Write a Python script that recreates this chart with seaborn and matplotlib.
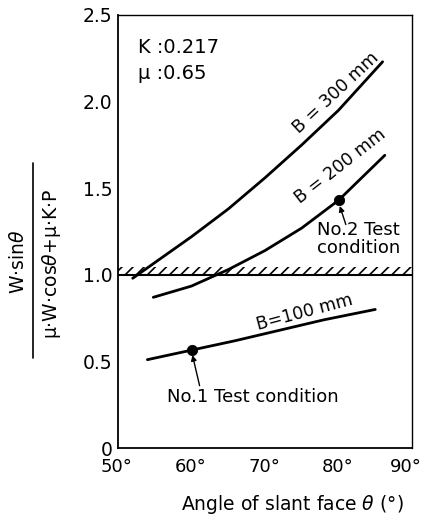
import matplotlib
matplotlib.use("Agg")
import matplotlib.pyplot as plt
import matplotlib.transforms as mtransforms
import seaborn as sns
import pandas as pd
from matplotlib.lines import Line2D

# ---- data ----
theta_300 = [52.0, 55.0, 60.0, 65.0, 70.0, 75.0, 80.0, 86.0]
val_300 = [0.98, 1.07, 1.22, 1.38, 1.56, 1.75, 1.95, 2.23]
theta_200 = [54.8, 60.0, 65.0, 70.0, 75.0, 80.0, 86.3]
val_200 = [0.87, 0.935, 1.03, 1.14, 1.27, 1.43, 1.69]
theta_100 = [54.0, 60.0, 66.0, 72.0, 78.0, 85.0]
val_100 = [0.51, 0.565, 0.62, 0.68, 0.74, 0.80]
test_theta = [60.0, 80.0]
test_val = [0.565, 1.43]
xticks = [50, 60, 70, 80, 90]
xticklabels = ["50°", "60°", "70°", "80°", "90°"]
yticks = [0, 0.5, 1.0, 1.5, 2.0, 2.5]
yticklabels = ["0", "0.5", "1.0", "1.5", "2.0", "2.5"]
limit_value = 1.0

df = pd.concat([
    pd.DataFrame({"theta": theta_300, "val": val_300, "B": "300"}),
    pd.DataFrame({"theta": theta_200, "val": val_200, "B": "200"}),
    pd.DataFrame({"theta": theta_100, "val": val_100, "B": "100"}),
])

sns.set_style("white")
plt.rcParams["font.family"] = ["DejaVu Sans"]
plt.rcParams["hatch.linewidth"] = 1.2
plt.rcParams["text.color"] = "black"
plt.rcParams["xtick.color"] = "black"
plt.rcParams["ytick.color"] = "black"

fig = plt.figure(figsize=(4.25, 5.18), dpi=100)
ax = fig.add_axes([118 / 425, 1 - 448 / 518, (412 - 118) / 425, (448 - 15) / 518])

sns.lineplot(data=df, x="theta", y="val", hue="B", units="B", estimator=None,
             palette={"300": "black", "200": "black", "100": "black"},
             linewidth=2.0, legend=False, ax=ax, sort=False)
sns.scatterplot(x=test_theta, y=test_val, color="black", s=55, ax=ax, zorder=5,
                edgecolor="black")

# limit line with hatch
ax.fill_between([50, 90], limit_value, limit_value + 0.045, facecolor="none",
                edgecolor="black", hatch="///", linewidth=0)
ax.axhline(limit_value, color="black", linewidth=1.5)

ax.set_xlim(50, 90)
ax.set_ylim(0, 2.5)
ax.set_xticks(xticks)
ax.set_xticklabels(xticklabels, fontsize=13)
ax.set_yticks(yticks)
ax.set_yticklabels(yticklabels, fontsize=13.5)
ax.tick_params(axis="x", direction="in", length=4, width=1.2, pad=7, colors="black")
ax.tick_params(axis="y", direction="out", length=3, width=1.2, pad=1, colors="black")
xlabels = ax.get_xticklabels()
for i, lab in enumerate(xlabels):
    dx = -6 if i == len(xlabels) - 1 else -1
    shift = mtransforms.ScaledTranslation(dx / 100, 0, fig.dpi_scale_trans)
    lab.set_transform(lab.get_transform() + shift)
for side, sp in ax.spines.items():
    sp.set_color("black")
    sp.set_linewidth(1.3 if side in ("left", "bottom") else 1.0)
ax.set_xlabel("")
ax.set_ylabel("")

# annotations
ax.text(52.7, 2.315, "K :0.217", fontsize=14, ha="left", va="center")
ax.text(52.7, 2.165, "μ :0.65", fontsize=14, ha="left", va="center")
ax.text(79.6, 2.05, "B = 300 mm", fontsize=12.5, rotation=43, ha="center", va="center")
ax.text(80.2, 1.63, "B = 200 mm", fontsize=12.5, rotation=38, ha="center", va="center")
ax.text(75.4, 0.785, "B=100 mm", fontsize=12.5, rotation=15, ha="center", va="center")
ax.text(77.1, 1.207, "No.2 Test\ncondition", fontsize=13, ha="left", va="center",
        linespacing=1.0)
ax.annotate("", xy=(80.0, 1.42), xytext=(81.0, 1.29),
            arrowprops=dict(arrowstyle="-|>", color="black", lw=1.0,
                            mutation_scale=8, shrinkA=0, shrinkB=3))
ax.text(68.4, 0.295, "No.1 Test condition", fontsize=13, ha="center", va="center")
ax.annotate("", xy=(60.0, 0.56), xytext=(61.1, 0.36),
            arrowprops=dict(arrowstyle="-|>", color="black", lw=1.0,
                            mutation_scale=8, shrinkA=0, shrinkB=3))

# x label
fig.text(292 / 425, 1 - 505 / 518, "Angle of slant face $\\theta$ (°)", fontsize=13.5,
         ha="center", va="center")

# y label as a fraction
fig.text(19 / 425, 1 - 262 / 518, "W·sin$\\theta$", rotation=90, fontsize=13.5,
         ha="center", va="center")
fig.text(52 / 425, 1 - 264 / 518, "μ·W·cos$\\theta$+μ·K·P", rotation=90, fontsize=13.5,
         ha="center", va="center")
fig.add_artist(Line2D([33 / 425, 33 / 425], [1 - 163 / 518, 1 - 358 / 518],
                      color="black", linewidth=1.2, transform=fig.transFigure))

fig.savefig("out.png", dpi=100)
